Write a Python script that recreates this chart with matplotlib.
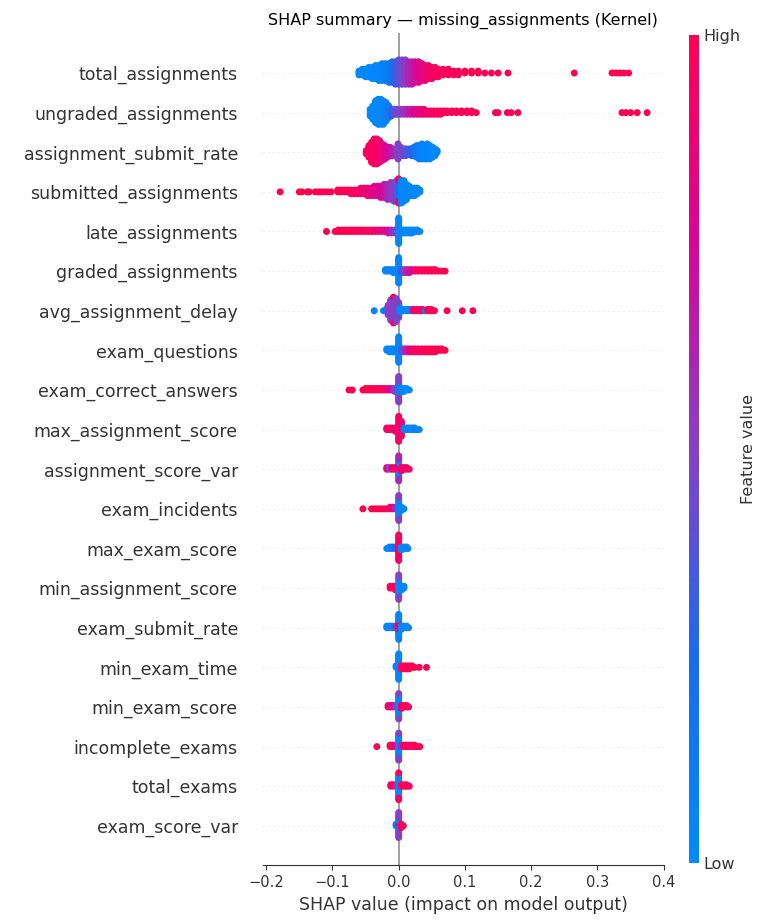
import numpy as np
import matplotlib
matplotlib.use("Agg")
import matplotlib.pyplot as plt
from matplotlib.colors import LinearSegmentedColormap

# features, top to bottom
features = ["total_assignments", "ungraded_assignments", "assignment_submit_rate",
            "submitted_assignments", "late_assignments", "graded_assignments",
            "avg_assignment_delay", "exam_questions", "exam_correct_answers",
            "max_assignment_score", "assignment_score_var", "exam_incidents",
            "max_exam_score", "min_assignment_score", "exam_submit_rate",
            "min_exam_time", "min_exam_score", "incomplete_exams", "total_exams",
            "exam_score_var"]

# dots: (shap value, number of dots, feature value 0=low..1=high)
total_assignments = [(-0.060, 3, 0.03), (-0.055, 4, 0.03), (-0.050, 5, 0.03), (-0.045, 6, 0.03),
                     (-0.040, 7, 0.04), (-0.035, 8, 0.05), (-0.030, 9, 0.05), (-0.025, 10, 0.06),
                     (-0.020, 10, 0.08), (-0.015, 11, 0.12), (-0.010, 12, 0.22), (-0.005, 13, 0.32),
                     (0.000, 14, 0.40), (0.005, 14, 0.46), (0.010, 14, 0.52), (0.015, 13, 0.60),
                     (0.020, 13, 0.66), (0.025, 12, 0.72), (0.030, 12, 0.78), (0.035, 10, 0.82),
                     (0.040, 9, 0.86), (0.045, 8, 0.90), (0.050, 7, 0.92), (0.055, 6, 0.95),
                     (0.060, 5, 0.96), (0.067, 4, 0.97), (0.075, 4, 0.98), (0.083, 3, 0.98),
                     (0.090, 3, 0.98), (0.100, 2, 0.99), (0.110, 2, 0.99), (0.120, 2, 0.99),
                     (0.130, 1, 0.99), (0.140, 1, 0.99), (0.150, 1, 0.99), (0.165, 1, 1.0),
                     (0.265, 1, 1.0), (0.322, 1, 1.0), (0.328, 1, 1.0), (0.334, 1, 1.0),
                     (0.340, 1, 1.0), (0.347, 1, 1.0)]
ungraded_assignments = [(-0.043, 5, 0.03), (-0.039, 9, 0.03), (-0.035, 14, 0.03), (-0.031, 16, 0.04),
                        (-0.027, 16, 0.04), (-0.023, 15, 0.05), (-0.019, 12, 0.08), (-0.015, 8, 0.15),
                        (-0.011, 5, 0.30), (-0.006, 4, 0.40), (-0.002, 4, 0.45), (0.003, 4, 0.50),
                        (0.008, 4, 0.56), (0.013, 4, 0.62), (0.018, 4, 0.70), (0.023, 4, 0.75),
                        (0.028, 4, 0.80), (0.033, 4, 0.85), (0.038, 4, 0.88), (0.043, 3, 0.90),
                        (0.048, 3, 0.92), (0.053, 3, 0.94), (0.058, 3, 0.95), (0.063, 3, 0.96),
                        (0.068, 2, 0.97), (0.073, 2, 0.98), (0.080, 2, 0.98), (0.087, 2, 0.99),
                        (0.095, 2, 0.99), (0.103, 2, 0.99), (0.110, 2, 0.99), (0.117, 1, 1.0),
                        (0.146, 1, 1.0), (0.150, 1, 1.0), (0.164, 1, 1.0), (0.170, 1, 1.0),
                        (0.180, 1, 1.0), (0.337, 1, 1.0), (0.343, 1, 1.0), (0.350, 1, 1.0),
                        (0.360, 1, 1.0), (0.375, 1, 1.0)]
assignment_submit_rate = [(-0.049, 3, 0.97), (-0.045, 8, 0.97), (-0.041, 13, 0.96), (-0.037, 16, 0.95),
                          (-0.033, 16, 0.94), (-0.029, 14, 0.90), (-0.025, 11, 0.86), (-0.021, 9, 0.80),
                          (-0.017, 7, 0.75), (-0.013, 6, 0.70), (-0.009, 5, 0.65), (-0.005, 5, 0.60),
                          (-0.001, 10, 0.50), (0.003, 6, 0.45), (0.007, 5, 0.45), (0.011, 5, 0.40),
                          (0.015, 4, 0.35), (0.019, 5, 0.30), (0.023, 6, 0.22), (0.027, 8, 0.15),
                          (0.031, 9, 0.10), (0.035, 10, 0.06), (0.039, 9, 0.05), (0.043, 10, 0.04),
                          (0.047, 9, 0.04), (0.051, 7, 0.03), (0.055, 5, 0.03), (0.058, 2, 0.03)]
submitted_assignments = [(-0.179, 1, 1.0), (-0.150, 1, 1.0), (-0.146, 1, 1.0), (-0.138, 1, 1.0),
                         (-0.135, 1, 1.0), (-0.126, 1, 1.0), (-0.121, 1, 1.0), (-0.117, 1, 1.0),
                         (-0.112, 1, 1.0), (-0.107, 1, 1.0), (-0.102, 1, 1.0), (-0.092, 2, 0.99),
                         (-0.087, 2, 0.99), (-0.082, 2, 0.99), (-0.077, 2, 0.98), (-0.072, 3, 0.97),
                         (-0.067, 3, 0.96), (-0.062, 3, 0.95), (-0.057, 4, 0.92), (-0.052, 4, 0.90),
                         (-0.047, 5, 0.88), (-0.042, 5, 0.85), (-0.037, 6, 0.80), (-0.032, 6, 0.78),
                         (-0.027, 7, 0.75), (-0.022, 8, 0.70), (-0.017, 9, 0.60), (-0.012, 10, 0.55),
                         (-0.007, 11, 0.50), (-0.003, 12, 0.40), (0.000, 10, 0.20), (0.000, 4, 0.95),
                         (0.004, 13, 0.05), (0.008, 12, 0.04), (0.012, 9, 0.04), (0.016, 6, 0.03),
                         (0.020, 5, 0.03), (0.024, 5, 0.03), (0.028, 4, 0.03), (0.032, 2, 0.03)]
late_assignments = [(-0.109, 1, 1.0), (-0.096, 1, 1.0), (-0.091, 2, 1.0), (-0.086, 2, 1.0),
                    (-0.081, 2, 1.0), (-0.076, 2, 1.0), (-0.071, 2, 0.99), (-0.066, 2, 0.99),
                    (-0.061, 2, 0.99), (-0.056, 2, 0.98), (-0.051, 2, 0.97), (-0.046, 2, 0.96),
                    (-0.041, 2, 0.95), (-0.036, 2, 0.93), (-0.031, 2, 0.90), (-0.026, 2, 0.85),
                    (-0.021, 2, 0.80), (-0.016, 3, 0.70), (-0.011, 3, 0.60), (-0.006, 3, 0.50),
                    (-0.002, 3, 0.40), (0.000, 18, 0.05), (0.004, 3, 0.04), (0.008, 3, 0.04),
                    (0.012, 3, 0.03), (0.016, 3, 0.03), (0.020, 3, 0.03), (0.024, 2, 0.03),
                    (0.028, 2, 0.03), (0.032, 1, 0.03)]
graded_assignments = [(-0.020, 2, 0.05), (-0.016, 2, 0.05), (-0.012, 2, 0.05), (-0.008, 3, 0.05),
                      (-0.004, 3, 0.05), (0.000, 18, 0.05), (0.004, 3, 0.30), (0.008, 3, 0.50),
                      (0.012, 3, 0.60), (0.016, 3, 0.70), (0.020, 2, 0.80), (0.025, 2, 0.90),
                      (0.030, 2, 0.95), (0.035, 2, 0.97), (0.040, 2, 0.98), (0.045, 2, 0.99),
                      (0.050, 2, 0.99), (0.055, 2, 1.0), (0.060, 1, 1.0), (0.065, 1, 1.0),
                      (0.070, 1, 1.0)]
avg_assignment_delay = [(-0.037, 1, 0.05), (-0.023, 1, 0.05), (-0.019, 2, 0.10), (-0.016, 8, 0.50),
                        (-0.012, 16, 0.50), (-0.008, 18, 0.50), (-0.008, 2, 0.92), (-0.004, 18, 0.50),
                        (0.000, 12, 0.45), (0.002, 4, 0.05), (0.006, 2, 0.05), (0.010, 2, 0.05),
                        (0.014, 2, 0.05), (0.018, 2, 0.10), (0.022, 2, 0.90), (0.027, 2, 0.95),
                        (0.032, 2, 0.97), (0.036, 2, 0.98), (0.040, 1, 0.05), (0.044, 2, 0.98),
                        (0.049, 2, 0.99), (0.054, 1, 1.0), (0.073, 1, 1.0), (0.096, 1, 1.0),
                        (0.112, 1, 1.0)]
exam_questions = [(-0.018, 2, 0.05), (-0.014, 3, 0.05), (-0.010, 3, 0.05), (-0.006, 3, 0.05),
                  (-0.002, 3, 0.05), (0.000, 18, 0.05), (0.004, 3, 0.30), (0.008, 3, 0.50),
                  (0.012, 3, 0.65), (0.016, 3, 0.80), (0.020, 3, 0.90), (0.025, 3, 0.95),
                  (0.030, 3, 0.97), (0.035, 3, 0.98), (0.040, 3, 0.99), (0.045, 3, 0.99),
                  (0.050, 3, 1.0), (0.055, 3, 1.0), (0.060, 2, 1.0), (0.065, 2, 1.0),
                  (0.070, 1, 1.0)]
exam_correct_answers = [(-0.075, 1, 1.0), (-0.070, 1, 1.0), (-0.054, 1, 1.0), (-0.050, 2, 1.0),
                        (-0.046, 2, 1.0), (-0.042, 2, 1.0), (-0.038, 2, 0.99), (-0.034, 2, 0.99),
                        (-0.030, 2, 0.98), (-0.026, 2, 0.97), (-0.022, 2, 0.95), (-0.018, 2, 0.90),
                        (-0.014, 2, 0.80), (-0.010, 2, 0.70), (-0.006, 3, 0.50), (0.000, 10, 0.10),
                        (0.000, 8, 0.50), (0.004, 3, 0.05), (0.008, 3, 0.04), (0.012, 2, 0.03),
                        (0.016, 1, 0.03)]
max_assignment_score = [(-0.018, 2, 0.90), (-0.014, 2, 0.95), (-0.010, 2, 0.90), (-0.005, 3, 0.90),
                        (0.000, 16, 0.95), (0.004, 10, 0.90), (0.008, 2, 0.05), (0.012, 2, 0.05),
                        (0.016, 2, 0.05), (0.020, 2, 0.05), (0.024, 2, 0.10), (0.028, 1, 0.05),
                        (0.031, 1, 0.05)]
assignment_score_var = [(-0.018, 2, 0.90), (-0.014, 2, 0.50), (-0.010, 2, 0.90), (-0.006, 2, 0.90),
                        (0.000, 6, 0.90), (0.000, 5, 0.05), (0.000, 5, 0.60), (0.004, 3, 0.90),
                        (0.008, 2, 0.90), (0.012, 2, 0.95), (0.016, 1, 0.95)]
exam_incidents = [(-0.054, 1, 1.0), (-0.041, 1, 1.0), (-0.037, 1, 1.0), (-0.033, 1, 1.0),
                  (-0.029, 1, 1.0), (-0.025, 1, 1.0), (-0.021, 1, 1.0), (-0.017, 1, 0.98),
                  (-0.013, 2, 0.95), (-0.009, 2, 0.80), (-0.005, 2, 0.60), (0.000, 12, 0.05),
                  (0.000, 4, 0.50), (0.004, 3, 0.05), (0.008, 1, 0.05)]
max_exam_score = [(-0.018, 1, 0.05), (-0.014, 2, 0.05), (-0.010, 2, 0.10), (-0.006, 2, 0.30),
                  (0.000, 18, 0.95), (0.004, 3, 0.05), (0.008, 2, 0.05), (0.012, 2, 0.05),
                  (0.014, 1, 0.05)]
min_assignment_score = [(-0.013, 2, 0.95), (-0.009, 2, 0.95), (-0.005, 3, 0.95), (0.000, 10, 0.05),
                        (0.000, 4, 0.50), (0.004, 3, 0.05), (0.008, 2, 0.05)]
exam_submit_rate = [(-0.018, 2, 0.05), (-0.014, 2, 0.05), (-0.010, 2, 0.05), (-0.005, 2, 0.40),
                    (0.000, 8, 0.90), (0.000, 8, 0.05), (0.004, 3, 0.05), (0.008, 2, 0.05),
                    (0.012, 2, 0.05), (0.015, 1, 0.05)]
min_exam_time = [(-0.004, 2, 0.05), (0.000, 18, 0.05), (0.004, 3, 0.95), (0.008, 3, 0.95),
                 (0.012, 3, 0.97), (0.016, 3, 0.98), (0.020, 2, 0.99), (0.024, 1, 1.0),
                 (0.031, 1, 1.0), (0.042, 1, 1.0)]
min_exam_score = [(-0.016, 2, 0.90), (-0.012, 2, 0.90), (-0.008, 2, 0.70), (-0.004, 2, 0.50),
                  (0.000, 16, 0.05), (0.000, 2, 0.50), (0.004, 3, 0.90), (0.008, 2, 0.95),
                  (0.012, 2, 0.95), (0.015, 1, 0.95)]
incomplete_exams = [(-0.033, 1, 0.95), (-0.013, 2, 0.95), (-0.009, 2, 0.95), (-0.005, 2, 0.80),
                    (0.000, 16, 0.05), (0.000, 3, 0.50), (0.004, 2, 0.60), (0.008, 2, 0.90),
                    (0.012, 2, 0.95), (0.016, 2, 0.95), (0.020, 2, 0.97), (0.024, 2, 0.98),
                    (0.028, 1, 1.0), (0.032, 1, 1.0)]
total_exams = [(-0.012, 2, 0.95), (-0.008, 2, 0.95), (-0.004, 2, 0.60), (0.000, 16, 0.05),
               (0.000, 3, 0.95), (0.004, 2, 0.95), (0.008, 2, 0.95), (0.012, 2, 0.97),
               (0.016, 1, 0.97)]
exam_score_var = [(-0.004, 2, 0.05), (0.000, 4, 0.95), (0.000, 4, 0.05), (0.000, 8, 0.50),
                  (0.004, 3, 0.95), (0.007, 1, 0.95)]

rows = [total_assignments, ungraded_assignments, assignment_submit_rate, submitted_assignments,
        late_assignments, graded_assignments, avg_assignment_delay, exam_questions,
        exam_correct_answers, max_assignment_score, assignment_score_var, exam_incidents,
        max_exam_score, min_assignment_score, exam_submit_rate, min_exam_time, min_exam_score,
        incomplete_exams, total_exams, exam_score_var]

# shap-like red/blue colormap
cmap = LinearSegmentedColormap.from_list("shap_red_blue", [
    (0.0, (0.0, 0.545, 0.984)),
    (0.25, (0.10, 0.42, 0.93)),
    (0.5, (0.53, 0.25, 0.78)),
    (0.75, (0.85, 0.02, 0.60)),
    (1.0, (1.0, 0.0, 0.318)),
])


def swarm_offsets(xs, row_height=0.42, nbins=100):
    # same stacking idea as shap's beeswarm
    quant = np.round(nbins * (xs - xs.min()) / (xs.max() - xs.min() + 1e-8))
    inds = np.argsort(quant, kind="stable")
    layer = 0
    last_bin = -1
    ys = np.zeros(len(xs))
    for ind in inds:
        if quant[ind] != last_bin:
            layer = 0
        ys[ind] = np.ceil(layer / 2) * ((layer % 2) * 2 - 1)
        layer += 1
        last_bin = quant[ind]
    ys *= 0.9 * (row_height / np.max(ys + 1))
    return ys


fig = plt.figure(figsize=(7.62, 9.22), dpi=100)
ax = fig.add_axes([0.345, 0.0613, 0.526, 0.9025])

n = len(features)
ax.axvline(0, color="#999999", lw=1.3, zorder=-1)
for i, (name, groups) in enumerate(zip(features, rows)):
    pos = n - 1 - i
    ax.axhline(pos, color="#cccccc", lw=0.6, dashes=(1, 5), zorder=-1)
    g = np.array(groups, dtype=float)
    xs = np.repeat(g[:, 0], g[:, 1].astype(int))
    cs = np.repeat(g[:, 2], g[:, 1].astype(int))
    ys = swarm_offsets(xs)
    ax.scatter(xs, pos + ys, c=cs, cmap=cmap, vmin=0, vmax=1, s=25,
               linewidths=0, zorder=3, rasterized=True)

ax.set_xlim(-0.205, 0.4)
ax.set_ylim(-1, n)
ax.set_yticks(range(n))
ax.set_yticklabels(features[::-1], fontsize=12.5, color="#333333")
ax.tick_params(axis="y", length=0, pad=18)
ax.set_xticks([-0.2, -0.1, 0.0, 0.1, 0.2, 0.3, 0.4])
ax.set_xticklabels(["\u22120.2", "\u22120.1", "0.0", "0.1", "0.2", "0.3", "0.4"])
ax.tick_params(axis="x", labelsize=10.5, colors="#333333", labelcolor="#333333")
ax.set_xlabel("SHAP value (impact on model output)", fontsize=12.5, color="#333333")
for side in ["top", "right", "left"]:
    ax.spines[side].set_visible(False)
ax.spines["bottom"].set_color("#333333")
ax.set_title("SHAP summary \u2014 missing_assignments (Kernel)", fontsize=11.5, pad=6)

cax = fig.add_axes([0.904, 0.064, 0.013, 0.898])
sm = plt.cm.ScalarMappable(cmap=cmap, norm=plt.Normalize(0, 1))
cb = fig.colorbar(sm, cax=cax, ticks=[0, 1])
cb.set_ticklabels(["Low", "High"])
cb.ax.tick_params(labelsize=11.5, length=0, colors="#333333")
cb.set_label("Feature value", size=11.5, labelpad=0, color="#333333")
cb.outline.set_visible(False)

fig.savefig("out.png", dpi=100)
